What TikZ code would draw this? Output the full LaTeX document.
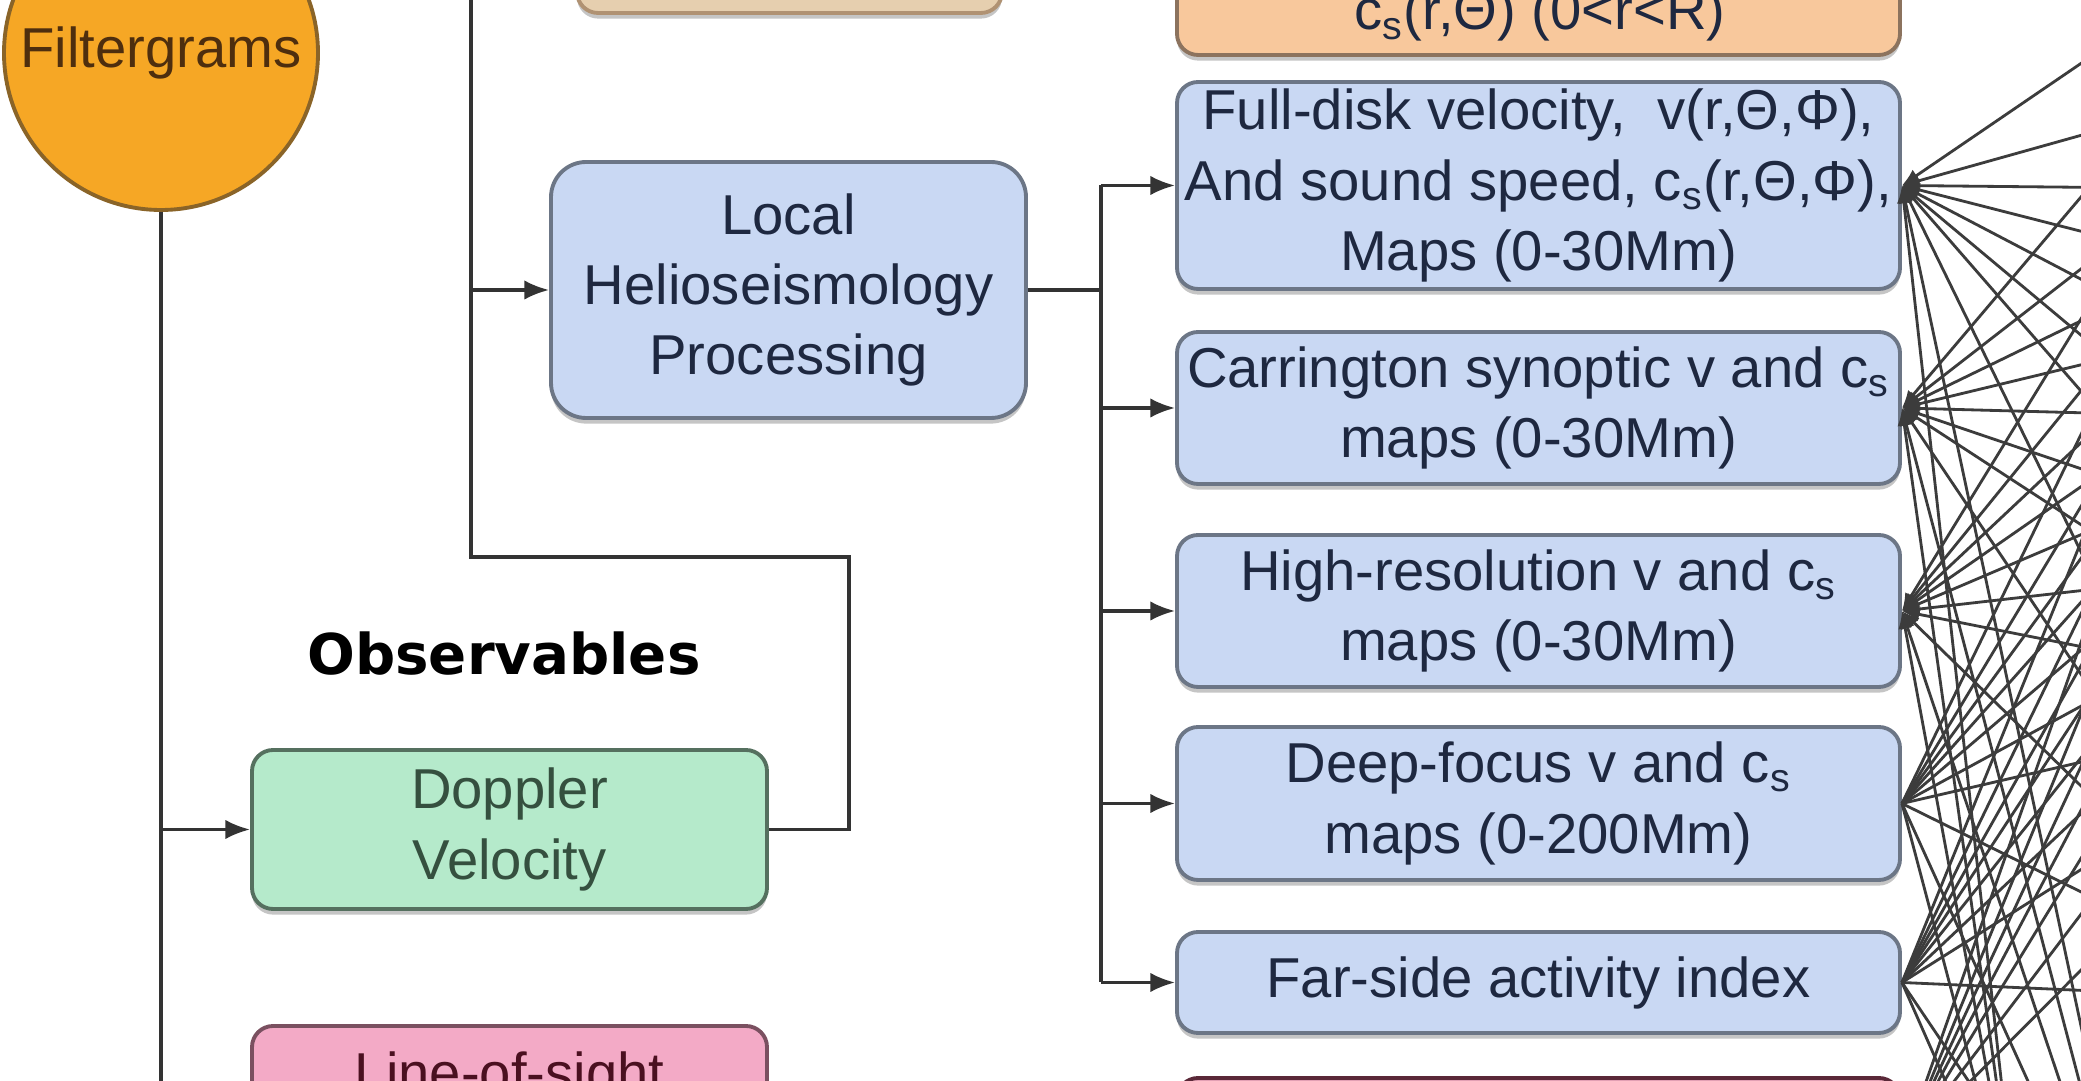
\documentclass[tikz,border=0pt]{standalone}
\usepackage{fontspec}
\setmainfont{Liberation Sans}
\newfontfamily\obsfont{DejaVu Sans}
\usepackage{tikz}
\usetikzlibrary{arrows.meta,shadows}
\definecolor{wireGray}{HTML}{333333}
\definecolor{netGray}{HTML}{3C3C3C}
\definecolor{procFill}{HTML}{C9D8F3}
\definecolor{procLine}{HTML}{6C7686}
\definecolor{procText}{HTML}{1E2840}
\definecolor{obsFill}{HTML}{B5EACB}
\definecolor{obsLine}{HTML}{55705F}
\definecolor{obsText}{HTML}{35503F}
\definecolor{losFill}{HTML}{F3AAC6}
\definecolor{losLine}{HTML}{7A5060}
\definecolor{losText}{HTML}{4A1020}
\definecolor{filtFill}{HTML}{F6A725}
\definecolor{filtLine}{HTML}{8A6428}
\definecolor{filtText}{HTML}{4E2E0E}
\definecolor{peachFill}{HTML}{F8C89C}
\definecolor{peachLine}{HTML}{8C735E}
\definecolor{tanFill}{HTML}{E6CFAF}
\definecolor{tanLine}{HTML}{B09273}
\definecolor{maroonFill}{HTML}{E3A0B4}
\definecolor{maroonLine}{HTML}{5A2838}
\tikzset{
  boxBase/.style={rounded corners=6pt, line width=1.1pt, align=center, inner sep=0pt,
    font=\fontsize{16}{20}\selectfont,
    drop shadow={shadow xshift=0pt, shadow yshift=-1.6pt, fill=black!45}},
  procBox/.style={boxBase, fill=procFill, draw=procLine, text=procText, minimum width=7.23cm},
  obsBox/.style={boxBase, fill=obsFill, draw=obsLine, text=obsText, minimum width=5.15cm},
  losBox/.style={boxBase, fill=losFill, draw=losLine, minimum width=5.15cm},
  filtCircle/.style={circle, fill=filtFill, draw=filtLine, line width=1.1pt, inner sep=0pt,
    text=filtText, font=\fontsize{16}{20}\selectfont},
  edgeTxt/.style={anchor=base, font=\fontsize{16}{20}\selectfont, inner sep=0pt},
  obsLabel/.style={font=\obsfont\bfseries\fontsize{16}{20}\selectfont, text=black},
  wire/.style={draw=wireGray, line width=0.9pt},
  feed/.style={wire, -{Latex[length=7pt,width=5.5pt]}},
  netLine/.style={draw=netGray, line width=0.8pt},
  netTip/.style={netLine, -{Latex[length=5pt,width=4pt]}},
}
\newcommand{\NetTargets}{%
  \coordinate (n1) at (23.5,1.2);
  \coordinate (n2) at (23.5,-0.6);
  \coordinate (n3) at (23.5,-1.9);
  \coordinate (n4) at (23.5,-3.0);
  \coordinate (n5) at (23.5,-4.2);
  \coordinate (n6) at (23.5,-5.6);
  \coordinate (n7) at (23.5,-7.0);
  \coordinate (n8) at (23.0,-10.0);
  \coordinate (n9) at (21.5,-13.5);
  \coordinate (n10) at (20.2,-12.5);
}

\begin{document}
\begin{tikzpicture}
  \path[use as bounding box] (0,0) rectangle (20.81,-10.81);
  \clip (0,0) rectangle (20.81,-10.81);
  \fill[white] (0,0) rectangle (20.81,-10.81);
  \NetTargets

  % boxes cut by the frame
  \node[boxBase, fill=tanFill, draw=tanLine, minimum width=4.25cm, minimum height=1.2cm] (prevBox) at (7.895,0.47) {};
  \node[boxBase, fill=peachFill, draw=peachLine, minimum width=7.23cm, minimum height=1.5cm] (coeffBox) at (15.385,0.20) {};
  \node[edgeTxt, text=procText] (coeffTxt) at (15.40,-0.30) {c\textsubscript{s}(r,Θ) (0<r<R)};
  \node[boxBase, fill=maroonFill, draw=maroonLine, minimum width=7.23cm, minimum height=1.44cm] (nextBox) at (15.385,-11.50) {};
  \node[losBox, minimum height=1.6cm] (los) at (5.095,-11.06) {};
  \node[edgeTxt, text=losText] (losTxt) at (5.095,-10.93) {Line-of-sight};

  \node[filtCircle, minimum size=3.14cm] (filt) at (1.61,-0.53) {Filtergrams};
  \node[obsLabel] (obsTitle) at (5.04,-6.54) {Observables};
  \node[obsBox, minimum height=1.59cm] (doppler) at (5.095,-8.295) {Doppler\\Velocity};
  \node[procBox, minimum width=4.75cm, minimum height=2.56cm, rounded corners=10pt] (local) at (7.885,-2.90) {Local\\Helioseismology\\Processing};

  \node[procBox, minimum height=2.07cm] (fulldisk) at (15.385,-1.855) {Full-disk velocity,\ \ v(r,Θ,Φ),\\And sound speed, c\textsubscript{s}(r,Θ,Φ),\\Maps (0-30Mm)};
  \node[procBox, minimum height=1.52cm] (carr) at (15.385,-4.08) {Carrington synoptic v and c\textsubscript{s}\\maps (0-30Mm)};
  \node[procBox, minimum height=1.52cm] (hires) at (15.385,-6.11) {High-resolution v and c\textsubscript{s}\\maps (0-30Mm)};
  \node[procBox, minimum height=1.53cm] (deep) at (15.385,-8.035) {Deep-focus v and c\textsubscript{s}\\maps (0-200Mm)};
  \node[procBox, minimum height=1.01cm] (farside) at (15.385,-9.825) {Far-side activity index};

  % trunk and loop
  \coordinate (trunkEnd) at (1.61,-11.3);
  \coordinate (dopRise) at (8.49,-5.57);
  \coordinate (dopTurn) at (4.71,-5.57);
  \coordinate (loopTop) at (4.71,0.4);
  \coordinate (bus) at (11.01,0);
  \draw[wire] (filt.south) -- (trunkEnd);
  \draw[feed] (filt.south |- doppler.west) -- (doppler.west);
  \draw[wire] (doppler.east) -| (dopRise) -- (dopTurn) -- (loopTop);
  \draw[feed] (dopTurn |- local.west) -- (local.west);

  \draw[wire] (local.east) -- (bus |- local.east);
  \draw[wire] (bus |- fulldisk.west) -- (bus |- farside.west);
  \foreach \b in {fulldisk,carr,hires,deep,farside}
    \draw[feed] (bus |- \b.west) -- (\b.west);

  % crossing links to the right
  \foreach \s/\tip in {fulldisk/netTip,carr/netTip,hires/netTip,deep/netLine,farside/netLine,nextBox/netLine}
    \foreach \t in {n1,n2,n3,n4,n5,n6,n7,n8,n9,n10}
      \draw[\tip] (\t) -- (\s.east);
\end{tikzpicture}
\end{document}
